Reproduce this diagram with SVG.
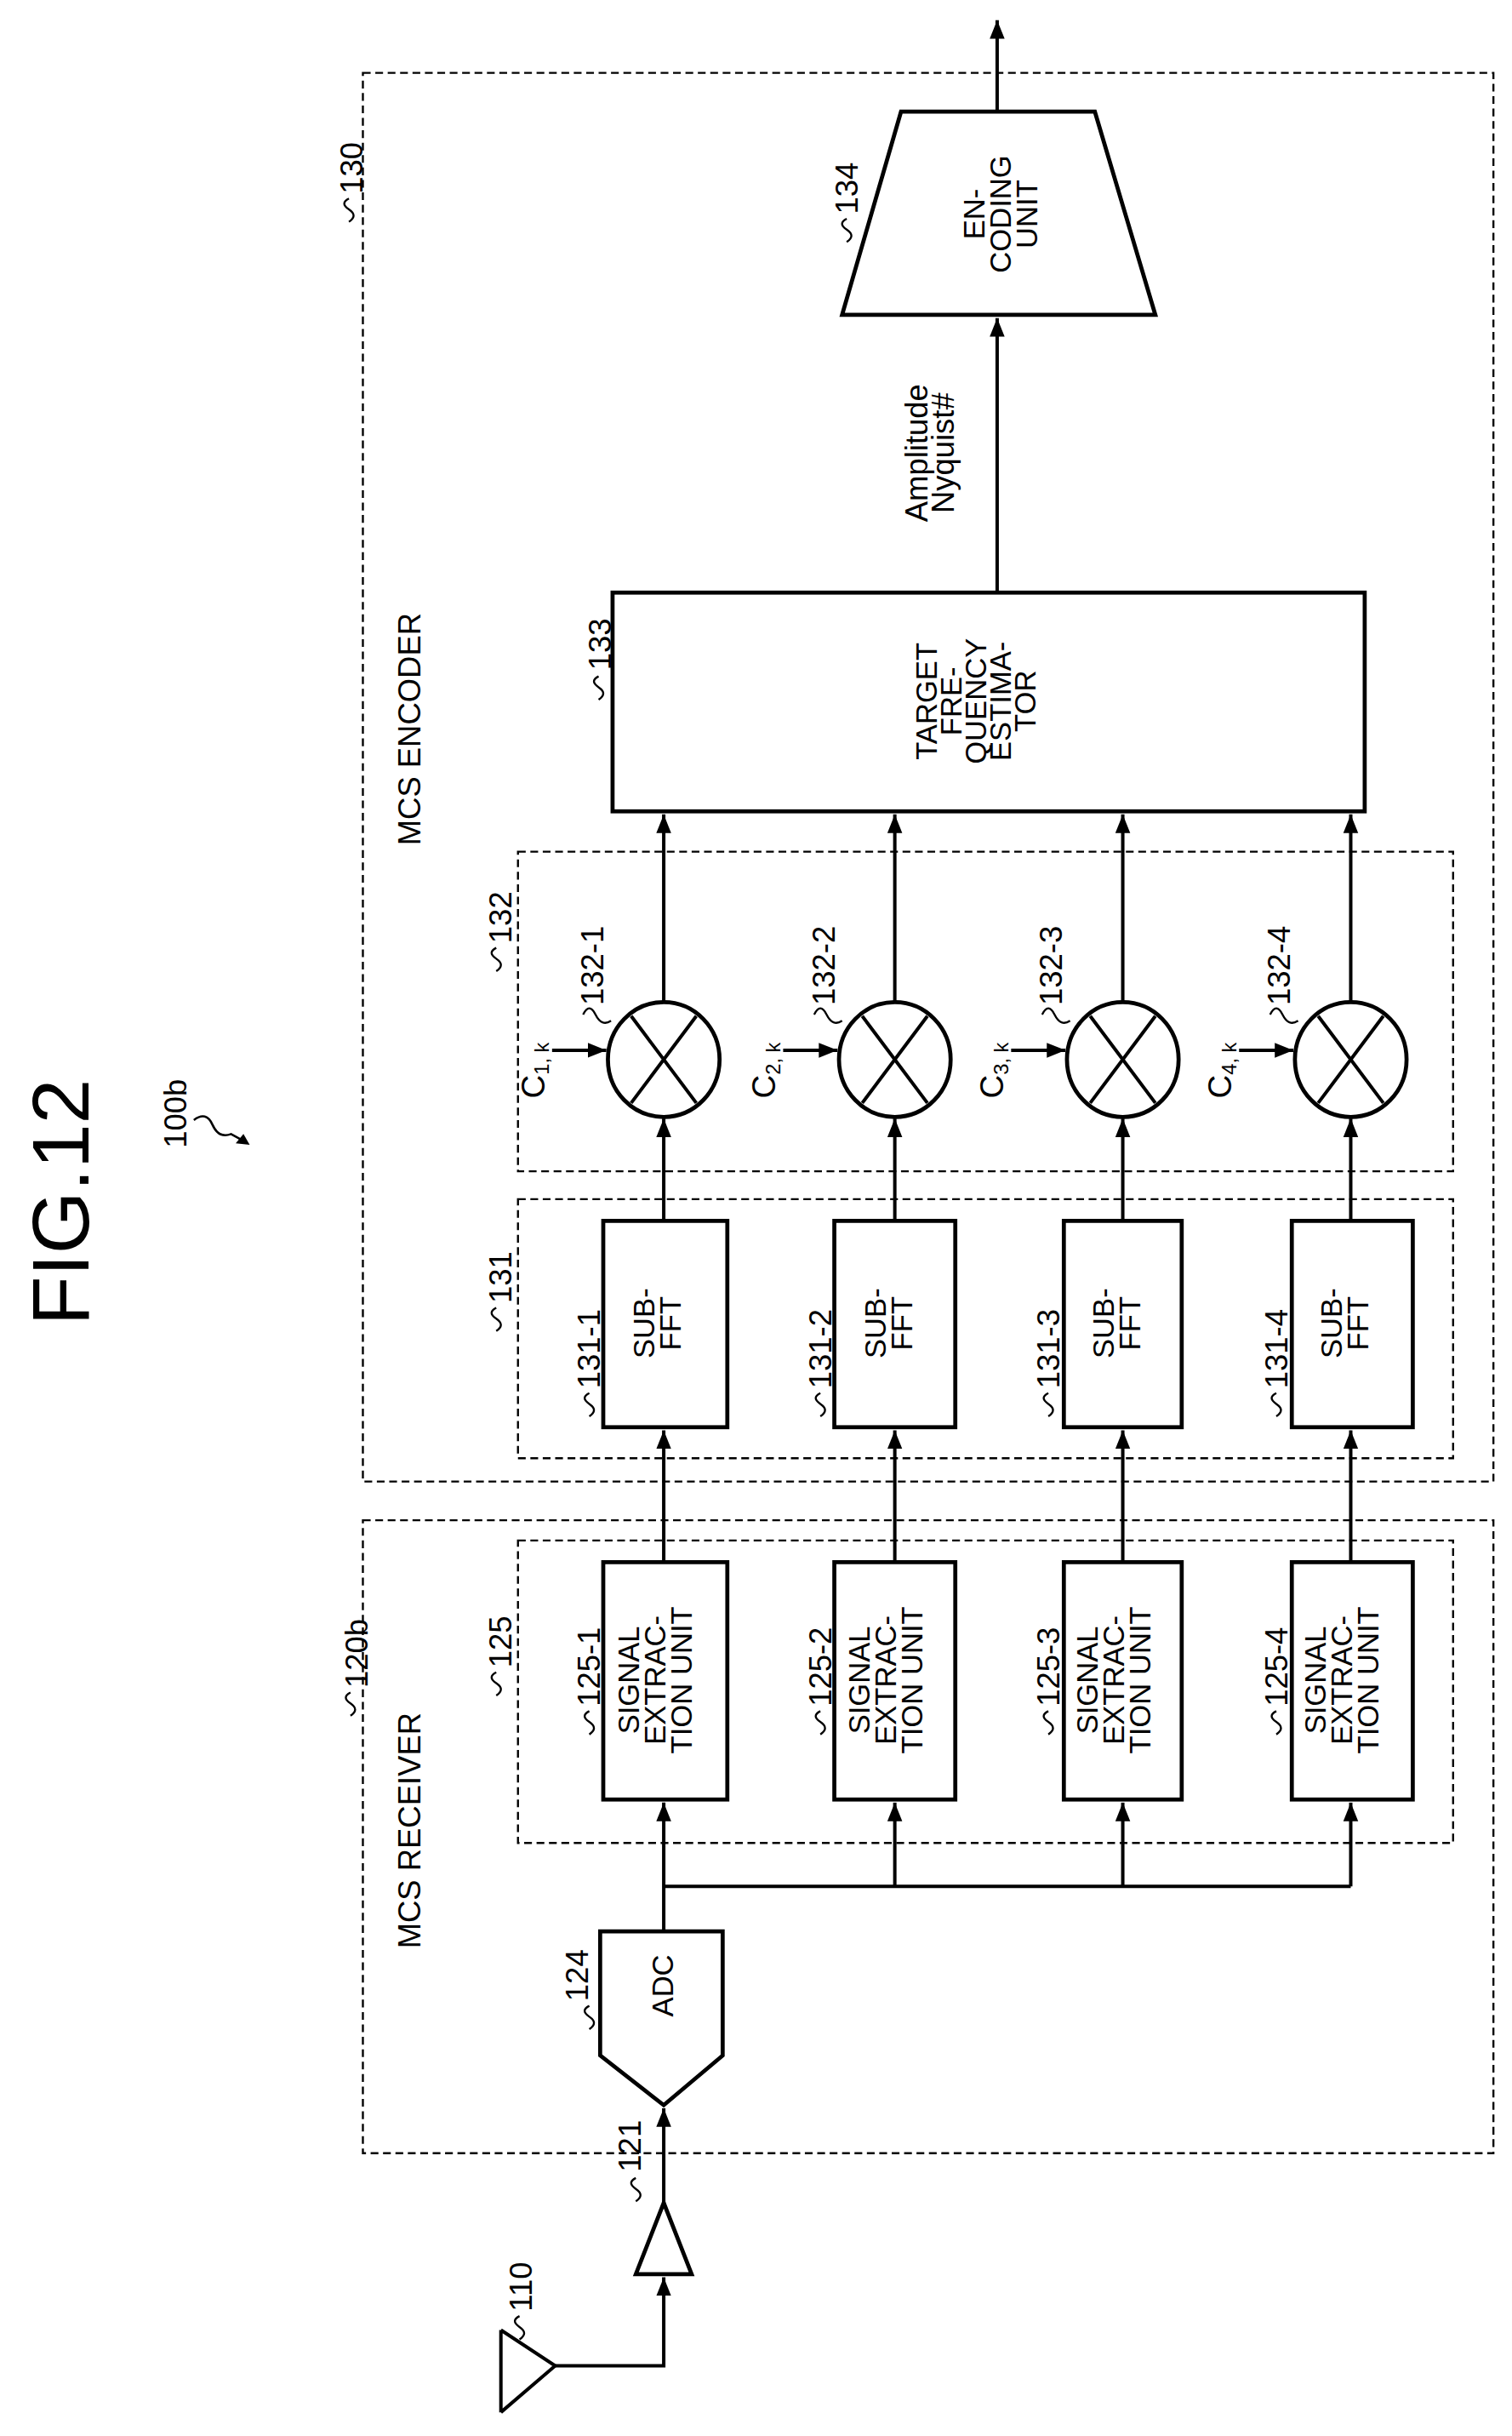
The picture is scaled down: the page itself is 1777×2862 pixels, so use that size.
<svg xmlns="http://www.w3.org/2000/svg" width="1777" height="2862" viewBox="0 0 1777 2862">
<style>
text{font-family:"Liberation Sans",Arial,sans-serif;fill:#000}
.lbl{font-size:20px}
.bt{font-size:19px;text-anchor:middle}
.box{fill:#fff;stroke:#000;stroke-width:2.6}
.dash{fill:none;stroke:#000;stroke-width:1.3;stroke-dasharray:5,3}
.ln{fill:none;stroke:#000;stroke-width:2.2}
.sq{fill:none;stroke:#000;stroke-width:1.3}
</style>
<defs>
<marker id="a" viewBox="0 0 10 10" refX="10" refY="5" markerWidth="12" markerHeight="12" orient="auto" markerUnits="userSpaceOnUse"><path d="M0,1 L10,5 L0,9 z"/></marker>
<path id="sq" class="sq" d="M0,0 q-6,3 0,7 q6,4 0,8"/>
</defs>
<rect width="1777" height="2862" fill="#fff"/>
<g transform="scale(1.8226)">
<g id="frames">
<rect class="dash" x="234" y="47" width="729" height="908"/>
<rect class="dash" x="234" y="980" width="729" height="408"/>
<rect class="dash" x="334" y="993" width="603" height="195"/>
<rect class="dash" x="334" y="773" width="603" height="167"/>
<rect class="dash" x="334" y="549" width="603" height="206"/>
<text class="lbl" text-anchor="middle" transform="translate(271,470) rotate(-90)">MCS ENCODER</text>
<text class="lbl" text-anchor="middle" transform="translate(271,1180) rotate(-90)">MCS RECEIVER</text>
<text class="lbl" transform="translate(234,125) rotate(-90)">130</text><use href="#sq" x="225" y="128"/>
<text class="lbl" transform="translate(237,1088) rotate(-90)">120b</text><use href="#sq" x="226" y="1091"/>
<text class="lbl" transform="translate(330,1075) rotate(-90)">125</text><use href="#sq" x="320" y="1078"/>
<text class="lbl" transform="translate(330,840) rotate(-90)">131</text><use href="#sq" x="320" y="843"/>
<text class="lbl" transform="translate(330,608) rotate(-90)">132</text><use href="#sq" x="320" y="611"/>
</g>
<g id="title">
<text font-size="52" text-anchor="middle" transform="translate(57,775) rotate(-90)">FIG.12</text>
<text class="lbl" transform="translate(120,740) rotate(-90)">100b</text>
<path d="M125,722 q8,-6 12,3 q4,9 12,6 L158,736" fill="none" stroke="#000" stroke-width="1.4"/>
<path d="M161,738 l-9,-1 l5,-6 z"/>
</g>
<g id="n110">
<path class="ln" d="M323,1502 L323,1555 M323,1502 L358,1525 L323,1555"/>
<text class="lbl" transform="translate(343,1490) rotate(-90)">110</text><use href="#sq" x="335" y="1493"/>
</g>
<g id="n121">
<path class="box" d="M410,1466 L446,1466 L428,1420 Z"/>
<text class="lbl" transform="translate(413,1400) rotate(-90)">121</text><use href="#sq" x="410" y="1404"/>
</g>
<g id="n124">
<path class="box" d="M387,1245 L466,1245 L466,1325 L428,1357 L387,1325 Z"/>
<text class="bt" transform="translate(434,1280) rotate(-90)">ADC</text>
<text class="lbl" transform="translate(379,1290) rotate(-90)">124</text><use href="#sq" x="380" y="1293"/>
</g>
<g id="n125">
<rect class="box" x="389" y="1007" width="80" height="153"/>
<rect class="box" x="538" y="1007" width="78" height="153"/>
<rect class="box" x="686" y="1007" width="76" height="153"/>
<rect class="box" x="833" y="1007" width="78" height="153"/>
<g id="se">
<text class="bt" transform="translate(412,1083) rotate(-90)"><tspan x="0">SIGNAL</tspan><tspan x="0" dy="17">EXTRAC-</tspan><tspan x="0" dy="17">TION UNIT</tspan></text>
</g>
<use href="#se" x="149"/><use href="#se" x="296"/><use href="#se" x="443"/>
<text class="lbl" transform="translate(387,1100) rotate(-90)">125-1</text><use href="#sq" x="380" y="1103"/>
<text class="lbl" transform="translate(536,1100) rotate(-90)">125-2</text><use href="#sq" x="529" y="1103"/>
<text class="lbl" transform="translate(683,1100) rotate(-90)">125-3</text><use href="#sq" x="676" y="1103"/>
<text class="lbl" transform="translate(830,1100) rotate(-90)">125-4</text><use href="#sq" x="823" y="1103"/>
</g>
<g id="n131">
<rect class="box" x="389" y="787" width="80" height="133"/>
<rect class="box" x="538" y="787" width="78" height="133"/>
<rect class="box" x="686" y="787" width="76" height="133"/>
<rect class="box" x="833" y="787" width="78" height="133"/>
<g id="sf"><text class="bt" transform="translate(422,853) rotate(-90)"><tspan x="0">SUB-</tspan><tspan x="0" dy="17">FFT</tspan></text></g>
<use href="#sf" x="149"/><use href="#sf" x="296"/><use href="#sf" x="443"/>
<text class="lbl" transform="translate(387,895) rotate(-90)">131-1</text><use href="#sq" x="380" y="898"/>
<text class="lbl" transform="translate(536,895) rotate(-90)">131-2</text><use href="#sq" x="529" y="898"/>
<text class="lbl" transform="translate(683,895) rotate(-90)">131-3</text><use href="#sq" x="676" y="898"/>
<text class="lbl" transform="translate(830,895) rotate(-90)">131-4</text><use href="#sq" x="823" y="898"/>
</g>
<g id="n132">
<g id="mx">
<ellipse class="box" cx="428" cy="683" rx="36" ry="37"/>
<path class="ln" d="M407,655 L449,711 M449,655 L407,711"/>
<path class="ln" d="M356,677 L391,677" marker-end="url(#a)"/>
<path class="sq" d="M376,654 q4,-8 8,0 q4,8 10,4"/>
</g>
<use href="#mx" x="149"/><use href="#mx" x="296"/><use href="#mx" x="443"/>
<text class="lbl" transform="translate(389,648) rotate(-90)">132-1</text>
<text class="lbl" transform="translate(538,648) rotate(-90)">132-2</text>
<text class="lbl" transform="translate(685,648) rotate(-90)">132-3</text>
<text class="lbl" transform="translate(832,648) rotate(-90)">132-4</text>
<text font-size="21" transform="translate(351,708) rotate(-90)">C<tspan font-size="13" dy="3">1, k</tspan></text>
<text font-size="21" transform="translate(500,708) rotate(-90)">C<tspan font-size="13" dy="3">2, k</tspan></text>
<text font-size="21" transform="translate(647,708) rotate(-90)">C<tspan font-size="13" dy="3">3, k</tspan></text>
<text font-size="21" transform="translate(794,708) rotate(-90)">C<tspan font-size="13" dy="3">4, k</tspan></text>
</g>
<g id="n133">
<rect class="box" x="395" y="382" width="485" height="141"/>
<text class="bt" transform="translate(604,452) rotate(-90)"><tspan x="0">TARGET</tspan><tspan x="0" dy="16">FRE-</tspan><tspan x="0" dy="16">QUENCY</tspan><tspan x="0" dy="16">ESTIMA-</tspan><tspan x="0" dy="16">TOR</tspan></text>
<text class="lbl" transform="translate(394,432) rotate(-90)">133</text><use href="#sq" x="386" y="436"/>
</g>
<g id="n134">
<path class="box" d="M543,203 L745,203 L706,72 L581,72 Z"/>
<text class="bt" transform="translate(635,138) rotate(-90)"><tspan x="0">EN-</tspan><tspan x="0" dy="17">CODING</tspan><tspan x="0" dy="17">UNIT</tspan></text>
<text class="lbl" transform="translate(553,138) rotate(-90)">134</text><use href="#sq" x="546" y="141"/>
</g>
<g id="connectors">
<path class="ln" d="M358,1525 L428,1525 L428,1468" marker-end="url(#a)"/>
<path class="ln" d="M428,1420 L428,1359" marker-end="url(#a)"/>
<path class="ln" d="M428,1245 L428,1162" marker-end="url(#a)"/>
<path class="ln" d="M428,1216 L871,1216"/>
<path class="ln" d="M577,1216 L577,1162" marker-end="url(#a)"/>
<path class="ln" d="M724,1216 L724,1162" marker-end="url(#a)"/>
<path class="ln" d="M871,1216 L871,1162" marker-end="url(#a)"/>
<path class="ln" d="M428,1007 L428,922" marker-end="url(#a)"/>
<path class="ln" d="M577,1007 L577,922" marker-end="url(#a)"/>
<path class="ln" d="M724,1007 L724,922" marker-end="url(#a)"/>
<path class="ln" d="M871,1007 L871,922" marker-end="url(#a)"/>
<path class="ln" d="M428,787 L428,721" marker-end="url(#a)"/>
<path class="ln" d="M577,787 L577,721" marker-end="url(#a)"/>
<path class="ln" d="M724,787 L724,721" marker-end="url(#a)"/>
<path class="ln" d="M871,787 L871,721" marker-end="url(#a)"/>
<path class="ln" d="M428,646 L428,525" marker-end="url(#a)"/>
<path class="ln" d="M577,646 L577,525" marker-end="url(#a)"/>
<path class="ln" d="M724,646 L724,525" marker-end="url(#a)"/>
<path class="ln" d="M871,646 L871,525" marker-end="url(#a)"/>
<path class="ln" d="M643,382 L643,205" marker-end="url(#a)"/>
<path class="ln" d="M643,72 L643,13" marker-end="url(#a)"/>
<text class="lbl" text-anchor="middle" transform="translate(598,292) rotate(-90)"><tspan x="0">Amplitude</tspan><tspan x="0" dy="17">Nyquist#</tspan></text>
</g>
</g>
</svg>
